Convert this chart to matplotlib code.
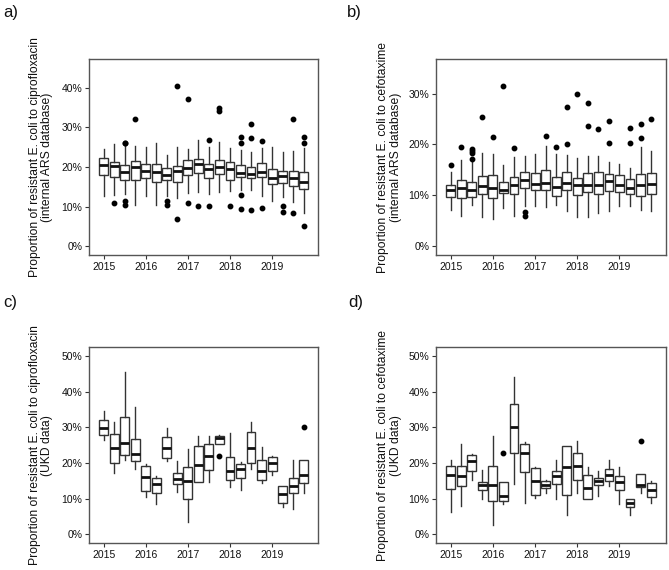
import matplotlib
matplotlib.use("Agg")
import matplotlib.pyplot as plt
from matplotlib.ticker import FuncFormatter

plt.rcParams['font.family'] = ['Liberation Sans', 'DejaVu Sans']

# ---------------- data (percent) ----------------
years = [2015, 2016, 2017, 2018, 2019]
quarters = [1, 2, 3, 4]

# a) ciprofloxacin, internal ARS database
a_med = [20.5, 20.2, 18.8, 20.0, 19.1, 18.7, 17.9, 18.9, 19.8, 20.8, 19.4, 20.0, 19.4, 18.6, 18.2, 18.8, 17.3, 17.8, 17.3, 16.2]
a_q1 = [18.0, 17.6, 16.8, 16.7, 17.2, 16.3, 16.7, 16.1, 17.9, 18.5, 17.2, 18.3, 16.8, 17.6, 17.1, 17.4, 15.7, 15.9, 15.1, 14.4]
a_q3 = [22.2, 21.2, 20.5, 21.5, 20.7, 20.7, 19.7, 20.2, 21.7, 22.1, 20.7, 21.7, 21.2, 20.4, 20.0, 21.1, 19.5, 19.1, 18.9, 18.8]
a_lo = [12.6, 12.8, 13.1, 10.3, 12.6, 10.5, 12.6, 12.2, 13.5, 13.7, 13.1, 13.6, 13.9, 14.3, 14.3, 12.6, 11.5, 12.4, 11.1, 8.4]
a_hi = [24.6, 25.9, 25.5, 25.4, 25.0, 26.1, 23.0, 25.0, 24.5, 26.9, 25.0, 26.4, 24.8, 24.3, 23.7, 24.9, 25.0, 23.7, 24.0, 24.7]
a_out = [[], [10.9], [26.2, 26.0, 11.5, 10.4], [32.2], [], [], [11.5, 10.4], [40.5, 6.9],
         [37.1, 10.9], [10.1], [26.9, 10.1], [34.9, 34.2], [10.1], [27.5, 26.2, 12.9, 9.4],
         [30.9, 27.3, 9.2], [26.7, 9.6], [], [10.1, 8.7], [32.1, 8.3], [27.5, 26.0, 5.1]]

# b) cefotaxime, internal ARS database
b_med = [11.1, 11.5, 11.0, 11.9, 11.5, 11.1, 12.0, 13.1, 12.3, 12.5, 11.7, 12.4, 12.0, 12.0, 12.0, 12.9, 12.1, 11.4, 12.1, 12.2]
b_q1 = [9.7, 9.5, 9.7, 10.3, 9.5, 10.5, 10.3, 11.4, 11.0, 11.0, 9.9, 11.1, 10.0, 10.6, 10.3, 10.9, 10.7, 10.3, 9.9, 10.3]
b_q3 = [12.0, 13.1, 12.6, 13.7, 14.0, 12.7, 13.6, 14.5, 14.4, 15.0, 13.5, 14.6, 13.4, 14.4, 14.6, 14.2, 13.9, 13.2, 14.2, 14.4]
b_lo = [7.1, 6.0, 8.0, 5.8, 5.4, 7.5, 5.9, 7.8, 7.8, 7.7, 8.0, 6.9, 5.7, 5.8, 6.5, 7.0, 7.8, 7.8, 7.2, 6.9]
b_hi = [14.5, 17.0, 16.5, 18.4, 18.2, 15.9, 17.5, 17.8, 18.2, 19.6, 18.2, 18.0, 17.4, 17.8, 17.8, 16.5, 16.1, 15.3, 19.5, 18.8]
b_out = [[15.9], [19.5], [19.1, 18.8, 18.4, 17.1], [25.4], [21.4], [31.5], [19.3], [6.8, 5.9],
         [], [21.6], [19.5], [27.3, 20.0], [30.0], [28.2, 23.6], [23.1], [24.7, 20.3], [],
         [23.2, 20.3], [24.1, 21.3], [25.0]]

# c) ciprofloxacin, UKD data
c_med = [29.8, 24.2, 25.7, 22.5, 16.0, 14.1, 24.2, 15.6, 14.9, 19.4, 22.1, 27.0, 17.9, 18.3, 24.2, 17.7, 20.1, 11.2, 13.6, 16.6]
c_q1 = [27.8, 20.1, 22.2, 20.5, 12.1, 11.5, 21.5, 14.1, 10.0, 14.7, 18.1, 25.5, 15.3, 15.7, 19.9, 15.2, 17.9, 8.9, 11.5, 14.5]
c_q3 = [32.1, 28.2, 32.9, 26.8, 19.2, 15.8, 27.4, 17.3, 19.0, 24.9, 25.3, 27.6, 21.6, 19.8, 28.8, 20.8, 21.8, 13.6, 15.8, 20.8]
c_lo = [26.6, 17.1, 20.8, 18.4, 10.6, 8.5, 20.7, 12.0, 3.5, 14.7, 14.7, 25.5, 13.3, 12.5, 18.4, 14.3, 16.7, 7.8, 7.2, 11.7]
c_hi = [34.5, 31.6, 45.7, 35.8, 19.8, 16.4, 29.8, 20.6, 24.0, 27.5, 27.7, 27.9, 28.4, 20.2, 31.4, 24.6, 22.1, 13.6, 20.8, 20.8]
c_out = [[], [], [], [], [], [], [], [], [], [], [], [22.1], [], [], [], [], [], [], [], [30.2]]

# d) cefotaxime, UKD data
d_med = [16.8, 16.4, 20.6, 13.8, 13.8, 10.7, 30.1, 22.9, 15.1, 13.8, 16.3, 19.0, 19.2, 13.1, 15.0, 16.7, 14.7, 8.9, 13.9, 12.4]
d_q1 = [12.7, 13.6, 17.9, 12.5, 9.3, 9.3, 22.9, 17.6, 11.1, 12.9, 14.0, 11.0, 15.4, 9.8, 13.8, 15.1, 12.4, 7.8, 13.4, 10.5]
d_q3 = [19.2, 19.2, 22.2, 14.8, 19.2, 14.8, 36.7, 25.4, 18.7, 14.9, 17.7, 24.8, 22.7, 16.6, 15.9, 18.4, 16.4, 9.8, 17.0, 14.3]
d_lo = [6.4, 8.1, 15.2, 9.8, 2.5, 8.6, 14.0, 8.9, 10.3, 11.7, 10.0, 5.4, 11.7, 9.8, 10.7, 13.7, 8.5, 5.4, 11.5, 8.9]
d_hi = [20.8, 25.5, 22.6, 18.0, 27.7, 14.8, 44.1, 26.0, 18.9, 15.4, 20.8, 24.8, 26.2, 18.9, 17.9, 20.8, 18.9, 10.0, 17.0, 15.0]
d_out = [[], [], [], [], [], [22.7], [], [], [], [], [], [], [], [], [], [], [], [], [26.2], []]

tags = ["a)", "b)", "c)", "d)"]
ylabels = ["Proportion of resistant E. coli to ciprofloxacin\n(internal ARS database)",
           "Proportion of resistant E. coli to cefotaxime\n(internal ARS database)",
           "Proportion of resistant E. coli to ciprofloxacin\n(UKD data)",
           "Proportion of resistant E. coli to cefotaxime\n(UKD data)"]
ylims = [45, 35, 50, 50]

# ---------------- figure ----------------
W, H = 669, 570
fig = plt.figure(figsize=(W / 100, H / 100), dpi=100)

positions = [y + (q - 1) / 4 for y in years for q in quarters]

def rect(l, t, r, b):
    return [l / W, 1 - b / H, (r - l) / W, (b - t) / H]

panel_rects = [rect(89.3, 59.3, 318, 255), rect(436.3, 59.3, 665.5, 255),
               rect(89.3, 347.3, 318, 543.3), rect(436.3, 347.3, 665.5, 543.3)]
tag_pos = [(3, 12.5), (347, 12.5), (3, 302), (348, 302)]
label_x = [41, 389.5, 41, 389.5]

datasets = [(a_med, a_q1, a_q3, a_lo, a_hi, a_out),
            (b_med, b_q1, b_q3, b_lo, b_hi, b_out),
            (c_med, c_q1, c_q3, c_lo, c_hi, c_out),
            (d_med, d_q1, d_q3, d_lo, d_hi, d_out)]

edge = '#333333'
for i, (med, q1, q3, lo, hi, out) in enumerate(datasets):
    ax = fig.add_axes(panel_rects[i])
    stats = [dict(med=med[k], q1=q1[k], q3=q3[k], whislo=lo[k], whishi=hi[k], fliers=out[k])
             for k in range(len(med))]
    ax.bxp(stats, positions=positions, widths=0.21, patch_artist=True, showcaps=False,
           boxprops=dict(facecolor='white', edgecolor=edge, linewidth=1.0),
           medianprops=dict(color='#111111', linewidth=2.0, solid_capstyle='butt'),
           whiskerprops=dict(color=edge, linewidth=1.0),
           flierprops=dict(marker='o', markerfacecolor='black', markeredgecolor='black',
                           markersize=3.2, linestyle='none'),
           manage_ticks=False)
    top = ylims[i]
    ax.set_ylim(-0.05 * top, top * 1.05)
    ax.set_xlim(2014.66, 2020.09)
    ax.set_yticks(range(0, int(top) + 1, 10) if top % 10 == 0 else range(0, int(top), 10))
    ax.yaxis.set_major_formatter(FuncFormatter(lambda v, p: f"{int(v)}%"))
    ax.set_xticks(years)
    ax.set_xticklabels([str(y) for y in years])
    ax.tick_params(axis='both', labelsize=7.5, length=3, width=0.8, color=edge,
                   labelcolor='#111111', pad=2)
    for s in ax.spines.values():
        s.set_color('#555555')
        s.set_linewidth(1.0)
    cy = (panel_rects[i][1] + panel_rects[i][3] / 2)
    fig.text(label_x[i] / W, cy, ylabels[i], rotation=90, ha='center', va='center',
             multialignment='center', fontsize=8.7, color='#111111', linespacing=1.1)
    fig.text(tag_pos[i][0] / W, 1 - tag_pos[i][1] / H, tags[i], ha='left', va='center',
             fontsize=12, color='#111111')

fig.savefig("out.png", dpi=100)
